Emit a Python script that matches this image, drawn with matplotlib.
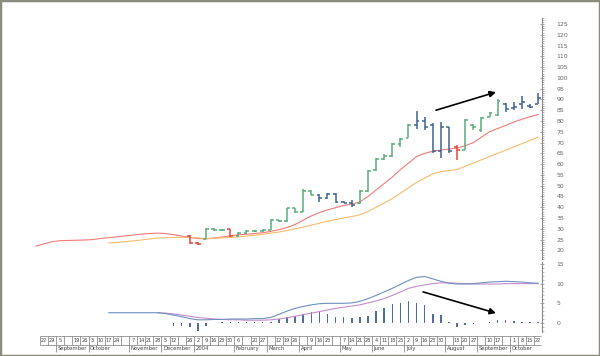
import numpy as np
import matplotlib
matplotlib.use("Agg")
import matplotlib.pyplot as plt
from matplotlib.patches import Rectangle
from matplotlib.ticker import MultipleLocator

# weekly bars, week 0 = 22 Aug 2003 ... week 61 = 22 Oct 2004
bar_weeks = list(range(18, 62))
bar_open = [26.5, 23.5, 25.5, 30.0, 29.6, 29.8, 26.5, 28.0, 29.0, 29.0, 29.3, 34.0, 33.6, 39.5,
            37.8, 47.5, 45.8, 44.5, 46.3, 42.5, 42.0, 42.0, 47.5, 57.5, 62.5, 64.0, 69.5, 72.0,
            78.0, 80.0, 78.0, 66.0, 77.0, 68.0, 66.5, 78.0, 76.0, 82.0, 83.0, 88.0, 86.0, 88.0,
            87.0, 88.0]
bar_high = [27.0, 23.8, 30.5, 30.5, 30.0, 30.0, 28.5, 29.5, 29.5, 29.8, 34.5, 34.3, 39.8, 39.8,
            48.5, 47.8, 46.0, 46.5, 46.5, 43.0, 43.5, 48.0, 57.5, 63.0, 64.5, 70.0, 72.0, 78.5,
            84.5, 82.0, 79.0, 79.5, 77.0, 69.0, 81.0, 78.5, 82.0, 84.0, 90.0, 88.5, 89.0, 91.5,
            88.0, 93.0]
bar_low = [23.0, 22.5, 25.5, 29.2, 29.0, 26.2, 26.0, 27.8, 28.5, 28.6, 29.3, 33.0, 33.3, 37.5,
           37.8, 45.5, 42.5, 44.0, 42.0, 41.8, 40.0, 41.5, 47.0, 57.0, 62.0, 63.5, 68.0, 72.0,
           76.5, 76.0, 65.0, 63.0, 65.0, 62.0, 66.5, 76.0, 75.0, 82.0, 82.5, 84.0, 85.0, 85.5,
           86.0, 88.0]
bar_close = [23.5, 22.8, 30.0, 29.6, 29.5, 26.5, 28.0, 29.0, 29.0, 29.3, 34.0, 33.6, 39.5, 37.8,
             47.5, 45.8, 44.5, 46.3, 42.5, 42.0, 41.0, 47.5, 57.0, 62.5, 64.0, 69.5, 71.5, 78.0,
             80.0, 77.0, 66.0, 77.0, 66.0, 66.5, 80.5, 77.0, 81.5, 83.5, 89.5, 85.5, 86.5, 89.0,
             86.5, 90.5]
# g = up trend, b = pause, r = below average
bar_kind = ["r", "r", "g", "g", "g", "r", "g", "g", "g", "g", "g", "g", "g", "g", "g", "g",
            "b", "b", "b", "b", "b", "g", "g", "g", "g", "g", "g", "g", "b", "b", "b", "b",
            "b", "r", "g", "g", "g", "g", "g", "b", "b", "b", "b", "b"]

# moving averages
ma_short_weeks = list(range(-1, 62))
ma_short = [22.0, 23.0, 24.0, 24.5, 24.6, 24.7, 24.8, 25.0, 25.5, 25.9, 26.3, 26.7, 27.1, 27.5,
            27.8, 28.0, 27.8, 27.3, 26.6, 26.0, 25.5, 25.3, 25.7, 26.2, 26.8, 27.2, 27.5, 27.8,
            28.2, 28.8, 29.6, 30.6, 32.0, 34.0, 36.0, 37.5, 38.8, 39.8, 40.8, 41.5, 42.5, 45.0,
            48.0, 51.0, 54.0, 57.5, 60.5, 63.5, 65.0, 66.0, 66.5, 67.0, 67.5, 68.5, 70.0, 72.5,
            75.0, 76.5, 78.0, 79.5, 80.8, 82.0, 83.0]
ma_long_weeks = list(range(8, 62))
ma_long = [23.4, 23.7, 24.0, 24.4, 24.8, 25.3, 25.7, 25.9, 26.0, 26.1, 26.0, 25.8, 25.5, 25.6,
           25.8, 26.0, 26.3, 26.6, 27.0, 27.5, 28.0, 28.5, 29.2, 30.0, 30.8, 31.7, 32.6, 33.5,
           34.3, 35.0, 35.7, 36.5, 38.0, 40.0, 42.0, 44.0, 46.5, 49.0, 51.5, 53.5, 55.5, 56.5,
           57.0, 57.5, 59.0, 60.5, 62.0, 63.5, 65.0, 66.5, 68.0, 69.5, 71.0, 72.5]

# MACD panel
macd_weeks = list(range(8, 62))
macd = [2.6, 2.6, 2.6, 2.6, 2.6, 2.6, 2.6, 2.4, 2.0, 1.6, 1.1, 0.8, 0.8, 0.9, 0.9, 1.0, 1.0,
        1.0, 1.1, 1.1, 1.4, 2.2, 3.0, 3.7, 4.2, 4.6, 4.9, 5.0, 5.0, 5.0, 5.1, 5.5, 6.2, 7.0,
        7.9, 8.8, 9.8, 10.8, 11.6, 11.8, 11.2, 10.6, 10.1, 9.9, 9.9, 10.0, 10.2, 10.4, 10.5,
        10.6, 10.5, 10.4, 10.2, 10.1]
signal_weeks = list(range(14, 62))
signal = [2.6, 2.5, 2.3, 2.0, 1.7, 1.4, 1.2, 1.0, 0.9, 0.8, 0.8, 0.7, 0.7, 0.7, 0.8, 1.0,
          1.3, 1.7, 2.1, 2.5, 2.9, 3.3, 3.7, 4.0, 4.3, 4.6, 5.1, 5.6, 6.2, 7.0, 7.9, 8.8, 9.3,
          9.7, 10.0, 10.2, 10.2, 10.1, 10.0, 9.9, 9.9, 9.9, 9.9, 10.0, 10.0, 10.0, 10.0, 10.0]
hist_weeks = list(range(16, 62))
hist = [-0.7, -0.8, -1.0, -2.0, -0.7, 0.1, 0.2, 0.2, 0.2, 0.2, 0.2, 0.2, 0.2, 1.0, 1.4, 1.7,
        2.4, 2.9, 2.9, 2.4, 1.4, 1.4, 1.2, 1.4, 1.7, 3.1, 3.8, 4.8, 5.2, 5.5, 5.0, 4.5, 2.4,
        2.1, 0.2, -1.0, -0.5, -0.3, 0.1, 0.3, 0.8, 0.8, 0.5, 0.2, 0.2, 0.2]

day_labels = ["22", "29", "5", "", "19", "26", "3", "10", "17", "24", "", "7", "14", "21", "28",
              "5", "12", "", "26", "2", "9", "16", "23", "30", "6", "", "20", "27", "", "12",
              "19", "26", "", "9", "16", "23", "", "7", "14", "21", "28", "4", "11", "18", "25",
              "2", "9", "16", "23", "30", "", "13", "20", "27", "", "10", "17", "", "1", "8",
              "15", "22"]
month_weeks = [2, 6, 11, 15, 19, 24, 28, 32, 37, 41, 45, 50, 54, 58]
month_names = ["September", "October", "November", "December", "2004", "February", "March",
               "April", "May", "June", "July", "August", "September", "October"]

colors = {"g": "#5aac7a", "b": "#3f6591", "r": "#e6453b"}
axis_col = "#8a8a8a"
text_col = "#666666"

W, H = 600, 356
fig = plt.figure(figsize=(6, 3.56), dpi=100)
fig.patch.set_facecolor("white")
fig.patches.append(Rectangle((0, 0), 1, 1, transform=fig.transFigure, fill=False,
                             edgecolor="#8c8c7e", linewidth=2.5))

x_left, x_right = 5, 542
xlim = (-4.81, 61.48)


def px_axes(top, bottom):
    return fig.add_axes([x_left / W, 1 - bottom / H, (x_right - x_left) / W, (bottom - top) / H])


def style_right(ax):
    for s in ["top", "left", "bottom"]:
        ax.spines[s].set_visible(False)
    ax.spines["right"].set_color(axis_col)
    ax.spines["right"].set_linewidth(0.8)
    ax.yaxis.tick_right()
    ax.tick_params(axis="y", which="major", direction="inout", length=3, width=0.5,
                   color=axis_col, labelsize=4.5, labelcolor=text_col, pad=9)
    ax.tick_params(axis="y", which="minor", direction="out", length=1.2, width=0.4,
                   color=axis_col)
    ax.set_xticks([])
    ax.set_xlim(*xlim)
    ax.patch.set_alpha(0)


# price panel
ax = px_axes(17.5, 259)
style_right(ax)
ax.set_ylim(16, 128)
ax.yaxis.set_major_locator(MultipleLocator(5))
ax.yaxis.set_minor_locator(MultipleLocator(1))
ax.set_yticks(np.arange(20, 126, 5))

ax.plot(ma_short_weeks, ma_short, color="#ef7c76", lw=0.8)
ax.plot(ma_long_weeks, ma_long, color="#f8bb6c", lw=0.8)

for k, w in enumerate(bar_weeks):
    c = colors[bar_kind[k]]
    ax.vlines(w, bar_low[k], bar_high[k], color=c, lw=1.1)
    ax.hlines(bar_open[k], w - 0.35, w, color=c, lw=1.1)
    ax.hlines(bar_close[k], w, w + 0.35, color=c, lw=1.1)

ax.annotate("", xy=(55.8, 93.4), xytext=(48.4, 85),
            arrowprops=dict(arrowstyle="-|>", color="black", lw=1.2,
                            mutation_scale=9, shrinkA=0, shrinkB=0))

# MACD panel
ax2 = px_axes(262, 332)
style_right(ax2)
ax2.set_ylim(-2.3, 15.5)
ax2.set_yticks([0, 5, 10, 15])
ax2.yaxis.set_minor_locator(MultipleLocator(1))
ax2.bar(hist_weeks, hist, width=0.18, color="#4f6f9a")
ax2.plot(signal_weeks, signal, color="#c48bcc", lw=0.8)
ax2.plot(macd_weeks, macd, color="#6f90c0", lw=0.8)
ax2.annotate("", xy=(55.8, 2.5), xytext=(46.8, 7.9),
             arrowprops=dict(arrowstyle="-|>", color="black", lw=1.2,
                             mutation_scale=9, shrinkA=0, shrinkB=0))

# date strip
ax3 = px_axes(332, 356)
ax3.set_xlim(*xlim)
ax3.set_ylim(0, 1)
ax3.axis("off")
box_top, box_bot = 0.83, 0.46
lc = "#777777"
ax3.hlines([box_top, box_bot], -0.5, 61.4, color=lc, lw=0.5)
ax3.vlines(np.arange(-0.5, 61.6, 1), box_bot, box_top, color=lc, lw=0.5)
for i, lab in enumerate(day_labels):
    ax3.text(i, (box_top + box_bot) / 2, lab, ha="center", va="center", fontsize=3.6,
             color="#444444")
for w, name in zip(month_weeks, month_names):
    ax3.vlines(w - 0.5, 0.15, box_bot, color=lc, lw=0.5)
    ax3.text(w - 0.3, 0.3, name, ha="left", va="center", fontsize=3.8, color="#444444")

fig.savefig("out.png", dpi=100)
